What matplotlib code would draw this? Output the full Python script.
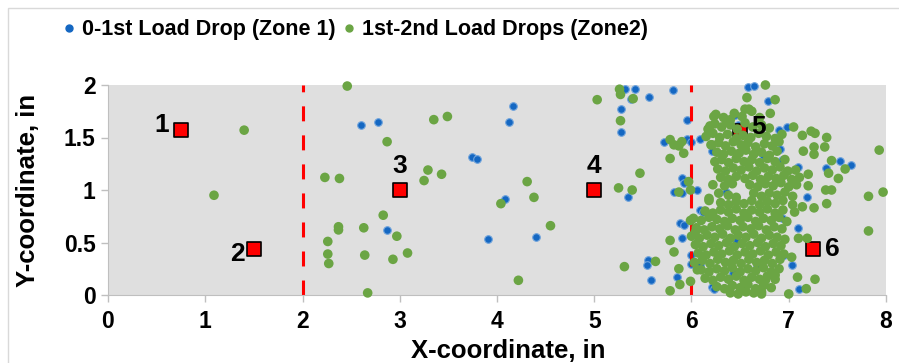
import matplotlib.pyplot as plt
from matplotlib.lines import Line2D
from matplotlib.patches import Rectangle

plt.rcParams['font.family'] = ['Liberation Sans', 'DejaVu Sans']
plt.rcParams['font.weight'] = 'bold'

# blue points: load up to the first drop
zone1_x = [
    2.60, 2.78, 2.87, 3.74, 3.79, 4.16, 4.12, 4.08, 3.91, 4.40,
    5.27, 5.27, 5.32, 5.42, 5.38, 5.35, 5.56, 5.81, 5.95, 5.72,
    5.95, 5.99, 6.09, 5.90, 5.92, 5.82, 5.90, 6.06, 6.09, 6.12,
    5.88, 5.92, 5.90, 5.99, 5.99, 5.55, 5.54, 5.58, 5.85, 6.09,
    6.21, 6.23, 6.43, 6.47, 6.67, 6.35, 6.58, 6.64, 6.79, 6.45,
    6.90, 6.98, 6.91, 6.93, 7.10, 7.38, 7.53, 7.64, 7.19, 7.10,
    7.03, 7.11, 6.93, 6.52, 6.74, 6.95, 6.21, 6.48,
]
zone1_y = [
    1.62, 1.65, 0.62, 1.31, 1.30, 1.80, 1.65, 0.91, 0.53, 0.55,
    1.77, 1.55, 1.96, 1.96, 1.87, 0.93, 1.89, 1.95, 1.67, 1.46,
    1.49, 1.46, 1.49, 1.11, 1.07, 0.98, 0.97, 1.00, 0.81, 0.79,
    0.69, 0.67, 0.54, 0.38, 0.30, 0.33, 0.29, 0.14, 0.17, 0.29,
    0.08, 0.06, 0.21, 0.51, 0.27, 0.98, 1.98, 1.99, 1.85, 1.71,
    1.57, 1.60, 1.39, 1.29, 1.22, 1.21, 1.28, 1.24, 0.93, 0.64,
    0.29, 0.06, 0.73, 0.06, 1.33, 0.38, 1.37, 1.62,
]

# green points: first to second drop
zone2_x = [
    1.40, 1.09, 2.46, 3.35, 3.49, 2.87, 2.23, 2.38, 3.29, 3.43,
    3.25, 2.83, 2.37, 2.37, 2.63, 2.97, 2.26, 3.08, 2.26, 2.64,
    2.93, 2.27, 2.67, 4.31, 4.04, 4.38, 4.55, 4.22, 5.03, 5.26,
    5.27, 5.40, 5.27, 5.25, 5.39, 5.31, 5.47, 5.63, 5.78, 5.78,
    5.82, 5.87, 5.90, 5.92, 5.97, 5.99, 5.87, 5.99, 5.78, 5.82,
    5.87, 5.88, 5.78, 5.99, 6.06, 6.04, 6.18, 6.21, 6.23, 6.36,
    6.40, 6.19, 6.57, 6.55, 6.59, 6.76, 6.86, 6.81, 7.05, 7.14,
    7.23, 7.27, 7.39, 7.37, 7.26, 7.26, 7.15, 7.44, 7.58, 7.41,
    7.51, 7.20, 7.93, 7.97, 7.82, 7.82, 7.44, 7.38, 7.39, 7.26,
    7.14, 7.10, 7.19, 7.03, 7.09, 7.27, 7.18, 7.00, 6.86, 6.76,
    6.72, 7.07,
    # main cluster, by rows from top
    6.25, 6.33, 6.44, 6.52, 6.62, 6.70,
    6.17, 6.24, 6.31, 6.40, 6.47, 6.55, 6.63, 6.72, 6.80,
    6.15, 6.22, 6.29, 6.37, 6.46, 6.53, 6.61, 6.69, 6.77, 6.86, 6.93,
    6.20, 6.28, 6.35, 6.43, 6.51, 6.58, 6.66, 6.75, 6.83, 6.90,
    6.26, 6.33, 6.41, 6.49, 6.56, 6.64, 6.72, 6.80, 6.88,
    6.24, 6.31, 6.38, 6.46, 6.54, 6.62, 6.70, 6.78, 6.86, 6.96,
    6.27, 6.35, 6.43, 6.51, 6.59, 6.67, 6.75, 6.83, 6.91, 6.99,
    6.30, 6.38, 6.46, 6.55, 6.63, 6.71, 6.79, 6.87, 6.95, 7.03, 7.11,
    6.22, 6.34, 6.42, 6.60, 6.68, 6.76, 6.84, 6.92, 7.00, 7.08, 7.20,
    6.28, 6.38, 6.46, 6.64, 6.72, 6.80, 6.88, 6.96, 7.04,
    6.18, 6.30, 6.38, 6.46, 6.54, 6.62, 6.70, 6.78, 6.86, 6.94, 7.04,
    6.14, 6.22, 6.30, 6.38, 6.46, 6.54, 6.62, 6.70, 6.78, 6.86, 6.94, 7.06,
    6.02, 6.10, 6.18, 6.26, 6.34, 6.42, 6.50, 6.58, 6.66, 6.74, 6.82, 6.90, 6.98,
    6.05, 6.13, 6.21, 6.29, 6.37, 6.45, 6.53, 6.61, 6.69, 6.77, 6.85, 6.93,
    6.00, 6.08, 6.16, 6.24, 6.32, 6.40, 6.48, 6.56, 6.64, 6.72, 6.80, 6.88, 6.96,
    6.04, 6.12, 6.20, 6.28, 6.36, 6.44, 6.52, 6.60, 6.68, 6.76, 6.84, 6.92,
    6.07, 6.15, 6.23, 6.31, 6.39, 6.47, 6.55, 6.63, 6.71, 6.79, 6.87, 6.95,
    6.03, 6.11, 6.19, 6.27, 6.35, 6.43, 6.51, 6.59, 6.67, 6.75, 6.83, 6.91,
    6.10, 6.18, 6.26, 6.34, 6.42, 6.50, 6.58, 6.66, 6.74, 6.82, 6.90,
    6.14, 6.22, 6.30, 6.38, 6.46, 6.54, 6.62, 6.70, 6.78, 6.86,
    6.26, 6.34, 6.42, 6.50, 6.58, 6.66, 6.74, 6.82,
    6.40, 6.48, 6.56, 6.64, 6.72,
]
zone2_y = [
    1.57, 0.95, 1.99, 1.67, 1.70, 1.46, 1.12, 1.11, 1.19, 1.15,
    1.09, 0.76, 0.65, 0.62, 0.64, 0.56, 0.51, 0.40, 0.39, 0.38,
    0.34, 0.30, 0.02, 1.08, 0.87, 0.93, 0.66, 0.14, 1.86, 1.96,
    1.91, 1.87, 1.66, 1.02, 1.00, 0.27, 1.16, 0.32, 1.30, 1.48,
    1.43, 1.42, 1.46, 1.35, 1.08, 1.00, 0.98, 0.71, 0.52, 0.41,
    0.25, 0.10, 0.04, 0.13, 0.24, 0.60, 0.92, 1.43, 1.70, 1.65,
    1.67, 1.61, 1.88, 1.77, 1.77, 2.00, 1.86, 1.73, 1.60, 1.52,
    1.56, 1.54, 1.50, 1.41, 1.41, 1.34, 1.37, 1.28, 1.20, 1.16,
    1.11, 1.15, 1.38, 0.98, 0.94, 0.61, 1.00, 1.00, 0.87, 0.83,
    0.84, 0.54, 0.54, 0.36, 0.17, 0.15, 0.06, 0.01, 0.19, 0.14,
    0.03, 1.19,
    1.72, 1.69, 1.73, 1.70, 1.75, 1.69,
    1.58, 1.63, 1.60, 1.62, 1.58, 1.64, 1.60, 1.62, 1.59,
    1.51, 1.54, 1.50, 1.53, 1.49, 1.52, 1.50, 1.54, 1.51, 1.49, 1.53,
    1.43, 1.45, 1.42, 1.46, 1.43, 1.45, 1.41, 1.44, 1.42, 1.46,
    1.36, 1.34, 1.37, 1.35, 1.38, 1.34, 1.36, 1.33, 1.37,
    1.27, 1.29, 1.26, 1.30, 1.27, 1.29, 1.26, 1.30, 1.27, 1.29,
    1.20, 1.18, 1.21, 1.19, 1.22, 1.18, 1.21, 1.19, 1.22, 1.18,
    1.12, 1.10, 1.13, 1.11, 1.14, 1.10, 1.13, 1.11, 1.14, 1.10, 1.12,
    1.05, 1.04, 1.06, 1.05, 1.03, 1.06, 1.04, 1.07, 1.03, 1.05, 1.04,
    0.97, 0.95, 0.93, 0.97, 0.94, 0.97, 0.95, 0.98, 0.94,
    0.90, 0.88, 0.86, 0.89, 0.87, 0.90, 0.86, 0.89, 0.87, 0.90, 0.86,
    0.80, 0.78, 0.81, 0.79, 0.82, 0.78, 0.81, 0.79, 0.82, 0.78, 0.81, 0.79,
    0.73, 0.71, 0.74, 0.72, 0.70, 0.73, 0.71, 0.74, 0.70, 0.73, 0.71, 0.74, 0.70,
    0.64, 0.62, 0.65, 0.63, 0.66, 0.62, 0.65, 0.63, 0.66, 0.62, 0.65, 0.63,
    0.56, 0.54, 0.57, 0.55, 0.58, 0.54, 0.57, 0.55, 0.58, 0.54, 0.57, 0.55, 0.53,
    0.48, 0.46, 0.49, 0.47, 0.50, 0.46, 0.49, 0.47, 0.50, 0.46, 0.49, 0.47,
    0.40, 0.38, 0.41, 0.39, 0.42, 0.38, 0.41, 0.39, 0.42, 0.38, 0.41, 0.39,
    0.31, 0.33, 0.30, 0.34, 0.31, 0.33, 0.30, 0.34, 0.31, 0.33, 0.30, 0.34,
    0.24, 0.22, 0.25, 0.23, 0.26, 0.22, 0.25, 0.23, 0.26, 0.22, 0.25,
    0.16, 0.14, 0.17, 0.15, 0.18, 0.14, 0.17, 0.15, 0.18, 0.15,
    0.08, 0.06, 0.09, 0.07, 0.10, 0.06, 0.09, 0.07,
    0.02, 0.01, 0.03, 0.02, 0.01,
]

# sensor locations
sensor_x = [0.75, 1.5, 3.0, 5.0, 6.5, 7.25]
sensor_y = [1.57, 0.44, 1.0, 1.0, 1.56, 0.44]
sensor_labels = ['1', '2', '3', '4', '5', '6']
label_offsets = [(-14, 4), (-12, -4), (0, 17), (0, 17), (13, 3), (14, 0)]

zone_bounds = [2, 6]

blue = '#1467c2'
green = '#6ba544'

fig = plt.figure(figsize=(8.99, 3.63), dpi=100)
ax = fig.add_axes([108 / 899, 1 - 295 / 363, 778 / 899, 210 / 363])
ax.set_facecolor('#dfdfdf')

ax.scatter(zone1_x, zone1_y, s=30, c=blue, edgecolors='#6fa3dc', linewidths=0.8,
           zorder=2, clip_on=False)
for xb in zone_bounds:
    ax.plot([xb, xb], [0, 2], color='#ff0000', lw=2.2, dashes=(4.9, 4.6), zorder=2.5)
ax.scatter(sensor_x, sensor_y, s=105, marker='s', c='#ff0000', edgecolors='black',
           linewidths=1.2, zorder=2.6, clip_on=False)
ax.scatter(zone2_x, zone2_y, s=48, c=green, edgecolors='none', zorder=3, clip_on=False)

for x, y, lab, off in zip(sensor_x, sensor_y, sensor_labels, label_offsets):
    ax.annotate(lab, (x, y), xytext=off, textcoords='offset points', ha='center',
                va='center', fontsize=19, fontweight='bold', zorder=5)

ax.set_xlim(0, 8)
ax.set_ylim(0, 2)
ax.set_xticks(range(0, 9))
ax.set_yticks([0, 0.5, 1, 1.5, 2])
ax.set_yticklabels(['0', '0.5', '1', '1.5', '2'])
for s in ['top', 'right']:
    ax.spines[s].set_visible(False)
for s in ['left', 'bottom']:
    ax.spines[s].set_color('#bfbfbf')
ax.tick_params(colors='#bfbfbf', labelcolor='black', length=5, width=1,
               labelsize=16.5)
ax.tick_params(axis='y', pad=4)
ax.tick_params(axis='x', pad=6)
for t in ax.get_xticklabels() + ax.get_yticklabels():
    t.set_fontweight('bold')

ax.set_xlabel('X-coordinate, in', fontsize=18.5, fontweight='bold')
ax.set_ylabel('Y-coordinate, in', fontsize=18.5, fontweight='bold')
ax.xaxis.set_label_coords(0.515, -0.21)
ax.yaxis.set_label_coords(-0.088, 0.5)

handles = [
    Line2D([], [], ls='none', marker='o', ms=5, color=blue, label='0-1st Load Drop (Zone 1)'),
    Line2D([], [], ls='none', marker='o', ms=5, color=green, label='1st-2nd Load Drops (Zone2)'),
]
fig.legend(handles=handles, loc='center left', bbox_to_anchor=(52 / 899, 1 - 30 / 363),
           ncol=2, frameon=False, handlelength=0.6, handletextpad=0.3,
           columnspacing=0.3, borderpad=0, prop={'size': 15.5, 'weight': 'bold'})

# outer chart border
fig.patches.append(Rectangle((8 / 899, -0.1), 1.2, 1.1 - 8 / 363, fill=False,
                             edgecolor='#d9d9d9', lw=1, transform=fig.transFigure))

fig.savefig('out.png', dpi=100)
